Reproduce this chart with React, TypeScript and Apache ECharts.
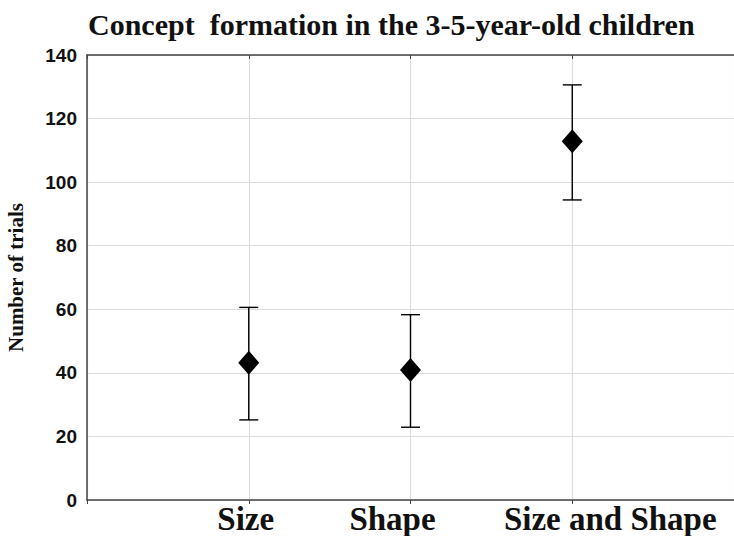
import React, { useEffect, useRef } from "react";
import * as echarts from "echarts";

const titleText = "Concept  formation in the 3-5-year-old children";
const yAxisName = "Number of trials";
const categories = ["Size", "Shape", "Size and Shape"];
const means = [43.2, 40.9, 112.9];
const upper = [60.6, 58.3, 130.6];
const lower = [25.2, 22.9, 94.4];

export default function App() {
  const ref = useRef<HTMLDivElement>(null);
  useEffect(() => {
    const chart = echarts.init(ref.current!, null, { renderer: "svg" });
    const pos = categories.map((_, i) => i + 1);
    const labelFont = {
      fontFamily: "Liberation Serif",
      fontWeight: "bold" as const,
      fontSize: 33,
      color: "#111",
      lineHeight: 33,
    };
    chart.setOption({
      animation: false,
      backgroundColor: "#ffffff",
      title: {
        text: titleText,
        left: 83,
        top: 4,
        textStyle: {
          fontFamily: "Liberation Serif",
          fontWeight: "bold",
          fontSize: 30,
          color: "#111",
        },
      },
      grid: { left: 87, right: 0, top: 55, bottom: 36, outerBoundsMode: "none", containLabel: false },
      xAxis: [
        {
          type: "value",
          min: 0,
          max: 4,
          interval: 1,
          axisLine: { show: true, lineStyle: { color: "#444", width: 1.5 } },
          axisTick: { show: true, length: 4, lineStyle: { color: "#444" } },
          axisLabel: {
            formatter: (v: number) =>
              categories[v - 1] !== undefined ? `{c${v - 1}|${categories[v - 1]}}` : "",
            margin: 2,
            rich: {
              c0: { ...labelFont, padding: [0, 6, 0, 0] },
              c1: { ...labelFont, padding: [0, 36, 0, 0] },
              c2: { ...labelFont, padding: [0, 0, 0, 76] },
            },
          },
          splitLine: { show: true, lineStyle: { color: "#dcdcdc", width: 1.2 } },
        },
        {
          type: "value",
          position: "top",
          min: 0,
          max: 4,
          interval: 1,
          axisLine: { show: true, lineStyle: { color: "#444", width: 1.5 } },
          axisTick: { show: true, inside: true, length: 4, lineStyle: { color: "#444" } },
          axisLabel: { show: false },
          splitLine: { show: false },
        },
      ],
      yAxis: {
        type: "value",
        min: 0,
        max: 140,
        interval: 20,
        name: yAxisName,
        nameLocation: "middle",
        nameRotate: 90,
        nameGap: 61,
        nameTextStyle: {
          fontFamily: "Liberation Serif",
          fontWeight: "bold",
          fontSize: 21,
          color: "#111",
        },
        axisLine: { show: true, lineStyle: { color: "#444", width: 1.5 } },
        axisTick: { show: false },
        axisLabel: {
          fontFamily: "Liberation Sans",
          fontWeight: "bold",
          fontSize: 19,
          color: "#111",
          margin: 10,
        },
        splitLine: { show: true, lineStyle: { color: "#dcdcdc", width: 1.2 } },
      },
      series: [
        {
          type: "custom",
          xAxisIndex: 0,
          encode: { x: 0, y: [1, 2] },
          data: pos.map((p, i) => [p, upper[i], lower[i]]),
          renderItem: (params: any, api: any) => {
            const x = api.value(0);
            const top = api.coord([x, api.value(1)]);
            const bot = api.coord([x, api.value(2)]);
            const hw = 9.5;
            const style = { stroke: "#000", lineWidth: 1.4 };
            return {
              type: "group",
              children: [
                { type: "line", shape: { x1: top[0], y1: top[1], x2: bot[0], y2: bot[1] }, style },
                { type: "line", shape: { x1: top[0] - hw, y1: top[1], x2: top[0] + hw, y2: top[1] }, style },
                { type: "line", shape: { x1: bot[0] - hw, y1: bot[1], x2: bot[0] + hw, y2: bot[1] }, style },
              ],
            };
          },
          z: 2,
        },
        {
          type: "scatter",
          xAxisIndex: 0,
          data: pos.map((p, i) => [p, means[i]]),
          symbol: "diamond",
          symbolSize: [21, 24],
          itemStyle: { color: "#000", opacity: 1 },
          z: 3,
        },
      ],
    });
    return () => chart.dispose();
  }, []);
  return (
    <div
      ref={ref}
      style={{ position: "fixed", left: 0, top: 0, width: 734, height: 536 }}
    />
  );
}
